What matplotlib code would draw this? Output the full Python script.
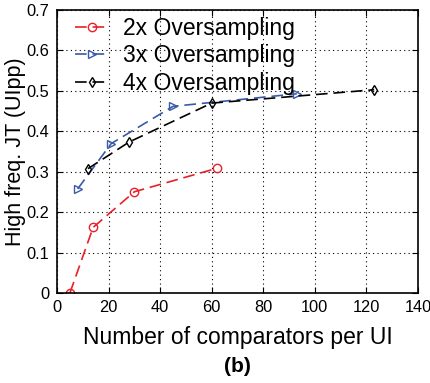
import matplotlib
matplotlib.use('Agg')
import matplotlib.pyplot as plt

plt.rcParams['font.family'] = ['Liberation Sans', 'DejaVu Sans']

# data
x_2x = [5, 14, 30, 62]
y_2x = [0.0, 0.162, 0.25, 0.308]
x_3x = [8, 21, 45, 93]
y_3x = [0.257, 0.369, 0.461, 0.492]
x_4x = [12, 28, 60, 123]
y_4x = [0.307, 0.373, 0.469, 0.502]
labels = ['2x Oversampling', '3x Oversampling', '4x Oversampling']

fig = plt.figure(figsize=(4.3, 3.83), dpi=100)
ax = fig.add_axes([0.1326, 0.235, 0.8395, 0.74])

red = '#e8202a'
blue = '#3a5aa8'
ax.plot(x_2x, y_2x, '--', color=red, marker='o', mfc='none', ms=6, lw=1.2,
        dashes=(7, 3.5), label=labels[0])
ax.plot(x_3x, y_3x, '--', color=blue, marker='>', mfc='none', ms=6, lw=1.2,
        dashes=(7, 3.5), label=labels[1])
ax.plot(x_4x, y_4x, '--', color='black', marker='d', mfc='none', ms=5, lw=1.2,
        dashes=(7, 3.5), label=labels[2])

ax.set_xlim(0, 140)
ax.set_ylim(0, 0.7)
ax.set_xticks(range(0, 141, 20))
ax.set_yticks([0, 0.1, 0.2, 0.3, 0.4, 0.5, 0.6, 0.7])
ax.set_yticklabels(['0', '0.1', '0.2', '0.3', '0.4', '0.5', '0.6', '0.7'])
ax.grid(True, linestyle=(0, (1, 3)), color='black', lw=0.8)
ax.tick_params(direction='in', top=True, right=True, labelsize=11.8, length=4)
ax.tick_params(axis='y', pad=5.5)
ax.tick_params(axis='x', pad=5)
for s in ax.spines.values():
    s.set_linewidth(1.2)

ax.set_xlabel('Number of comparators per UI', fontsize=16.5, labelpad=8)
ax.set_ylabel('High freq. JT (UIpp)', fontsize=15.5)
ax.yaxis.set_label_coords(-0.085, 0.5)

leg = ax.legend(loc='upper left', frameon=False, fontsize=16.5, handlelength=1.45,
                handletextpad=0.65, labelspacing=0.2, borderpad=0, borderaxespad=0,
                bbox_to_anchor=(0.05, 0.975))

fig.text(0.552, 0.042, '(b)', fontsize=15, fontweight='bold', ha='center', va='center')

fig.savefig('out.png', dpi=100)
